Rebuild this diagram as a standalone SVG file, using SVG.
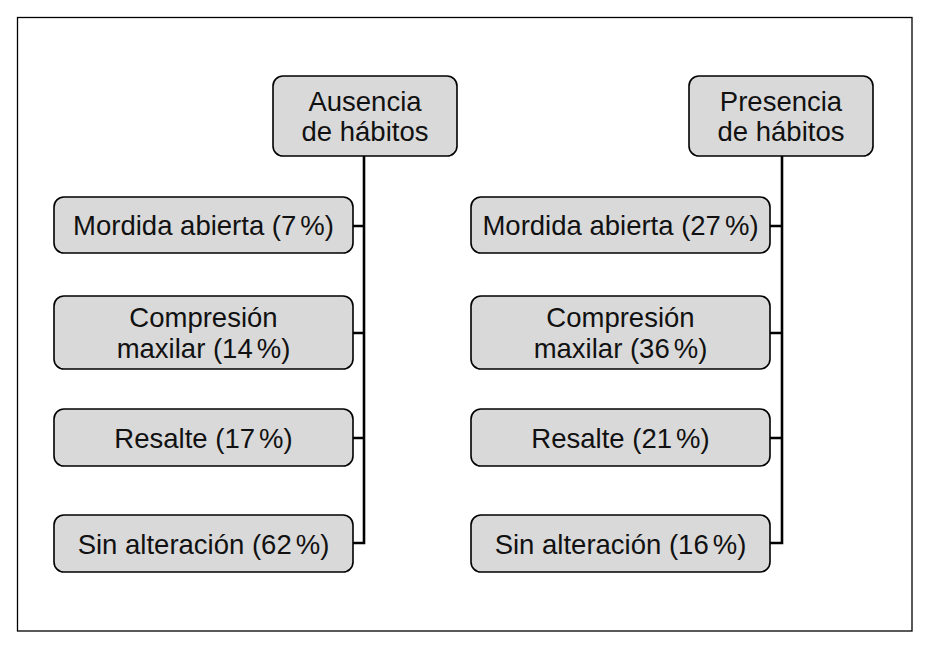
<svg xmlns="http://www.w3.org/2000/svg" width="930" height="645" viewBox="0 0 930 645">
<style>
.box{fill:#d9d9d9;stroke:#000;stroke-width:1.6}
.t{font-family:"Liberation Sans",Arial,Helvetica,sans-serif;font-size:27.5px;fill:#111;text-anchor:middle}
.c{fill:none;stroke:#000;stroke-width:2.6;stroke-linejoin:miter}
</style>
<rect x="0" y="0" width="930" height="645" fill="#fff"/>
<rect x="17.5" y="17.5" width="894.5" height="613.5" fill="none" stroke="#000" stroke-width="1.3"/>
<g id="connectors">
<path class="c" d="M364,156 V543 H353 M353,226 H364 M353,333 H364 M353,438 H364"/>
<path class="c" d="M782,156 V543 H770 M770,226 H782 M770,333 H782 M770,438 H782"/>
</g>
<g id="ausencia"><rect class="box" x="273" y="76" width="184" height="80" rx="10"/><text class="t" x="365" y="111">Ausencia</text><text class="t" x="365" y="141">de hábitos</text></g>
<g id="l-mordida"><rect class="box" x="54" y="197" width="299" height="56" rx="10"/><text class="t" x="203.5" y="235">Mordida abierta (7<tspan dx="4">%</tspan>)</text></g>
<g id="l-compresion"><rect class="box" x="54" y="296" width="299" height="73" rx="10"/><text class="t" x="203.5" y="327">Compresión</text><text class="t" x="203.5" y="358">maxilar (14<tspan dx="4">%</tspan>)</text></g>
<g id="l-resalte"><rect class="box" x="54" y="409" width="299" height="57" rx="10"/><text class="t" x="203.5" y="447.5">Resalte (17<tspan dx="4">%</tspan>)</text></g>
<g id="l-sin"><rect class="box" x="54" y="515" width="299" height="57" rx="10"/><text class="t" x="203.5" y="553.5">Sin alteración (62<tspan dx="4">%</tspan>)</text></g>
<g id="presencia"><rect class="box" x="689" y="76" width="184" height="80" rx="10"/><text class="t" x="781" y="111">Presencia</text><text class="t" x="781" y="141">de hábitos</text></g>
<g id="r-mordida"><rect class="box" x="471" y="197" width="299" height="56" rx="10"/><text class="t" x="620.5" y="235">Mordida abierta (27<tspan dx="4">%</tspan>)</text></g>
<g id="r-compresion"><rect class="box" x="471" y="296" width="299" height="73" rx="10"/><text class="t" x="620.5" y="327">Compresión</text><text class="t" x="620.5" y="358">maxilar (36<tspan dx="4">%</tspan>)</text></g>
<g id="r-resalte"><rect class="box" x="471" y="409" width="299" height="57" rx="10"/><text class="t" x="620.5" y="447.5">Resalte (21<tspan dx="4">%</tspan>)</text></g>
<g id="r-sin"><rect class="box" x="471" y="515" width="299" height="57" rx="10"/><text class="t" x="620.5" y="553.5">Sin alteración (16<tspan dx="4">%</tspan>)</text></g>
</svg>
